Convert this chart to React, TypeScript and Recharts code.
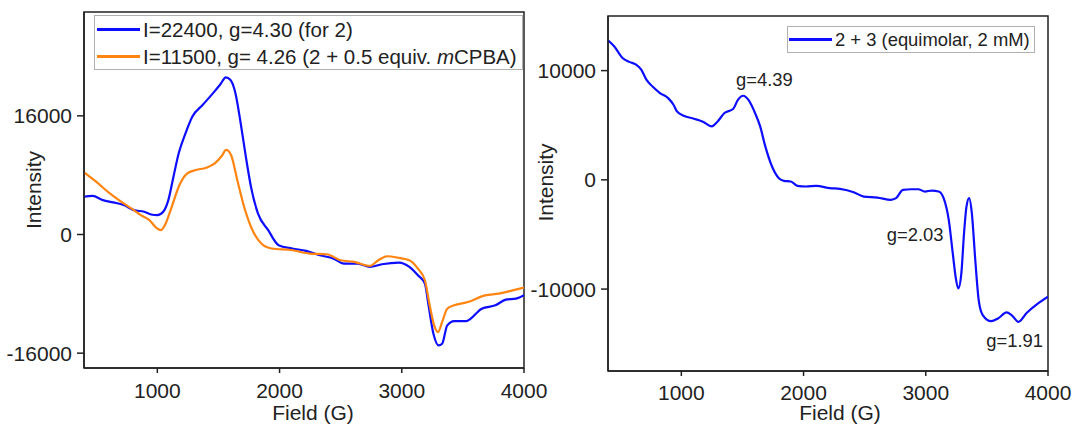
import { LineChart, Line, XAxis, YAxis, ReferenceArea, ReferenceDot, Legend, Label } from 'recharts'

const fieldTicks = [1000, 2000, 3000, 4000]
const leftIntensityTicks = [-16000, 0, 16000]
const rightIntensityTicks = [-10000, 0, 10000]

// complex 2 alone (I=22400, g=4.30)
const complexField = [400, 470, 555, 639, 724, 808, 893, 949, 1000, 1048, 1090, 1132, 1175, 1231, 1287, 1372, 1456, 1513, 1561, 1597, 1639, 1682, 1724, 1766, 1823, 1907, 1992, 2104, 2217, 2330, 2442, 2527, 2639, 2738, 2837, 2977, 3062, 3132, 3189, 3217, 3259, 3302, 3330, 3372, 3428, 3527, 3654, 3766, 3851, 3935, 4000]
const complexIntensity = [5100, 5200, 4640, 4330, 3970, 3290, 3060, 2700, 2600, 3060, 4640, 7800, 10950, 13660, 15900, 17490, 19060, 20190, 21180, 20870, 19060, 15000, 10500, 6440, 2840, 590, -1440, -1890, -2200, -2800, -3250, -3920, -3920, -4370, -4010, -3790, -4370, -5500, -6630, -9330, -13390, -14960, -14740, -12260, -11670, -11670, -10000, -9550, -8790, -8650, -8200]

// 2 + 0.5 equiv. mCPBA (I=11500, g=4.26)
const oxidizedField = [400, 499, 611, 724, 808, 865, 935, 992, 1028, 1062, 1118, 1175, 1245, 1316, 1400, 1470, 1527, 1563, 1603, 1654, 1710, 1766, 1851, 1935, 2104, 2245, 2386, 2499, 2611, 2738, 2808, 2879, 2977, 3062, 3132, 3189, 3231, 3265, 3296, 3330, 3372, 3428, 3541, 3682, 3794, 3907, 4000]
const oxidizedIntensity = [8380, 7120, 5540, 4190, 3290, 2610, 1940, 900, 590, 1260, 3740, 6440, 8250, 8700, 9010, 9600, 10590, 11400, 10730, 7350, 3740, 1040, -1220, -1890, -2120, -2570, -2660, -3470, -3700, -4240, -3470, -2930, -3150, -3470, -4600, -6170, -9780, -12260, -13160, -11810, -10000, -9550, -9100, -8200, -7980, -7530, -7170]

// 2 + 3 (equimolar, 2 mM)
const mixtureField = [400, 450, 519, 575, 630, 672, 714, 769, 825, 894, 936, 964, 1019, 1103, 1172, 1250, 1297, 1353, 1423, 1464, 1506, 1548, 1603, 1645, 1687, 1742, 1798, 1840, 1895, 1951, 2020, 2104, 2215, 2298, 2410, 2493, 2604, 2715, 2757, 2813, 2882, 2938, 2993, 3049, 3105, 3146, 3188, 3221, 3244, 3266, 3291, 3313, 3333, 3355, 3377, 3405, 3433, 3466, 3535, 3591, 3661, 3702, 3758, 3827, 3911, 4000]
const mixtureIntensity = [12780, 12230, 11160, 10800, 10550, 10090, 9170, 8500, 7950, 7460, 6880, 6270, 5870, 5600, 5350, 4900, 5350, 6120, 6480, 7340, 7700, 7340, 6120, 4890, 3060, 1220, 150, -90, -150, -550, -610, -550, -760, -830, -1130, -1530, -1620, -1830, -1680, -920, -860, -860, -1070, -980, -1070, -1680, -3670, -6730, -8870, -9940, -8560, -4890, -2450, -1680, -3060, -7340, -11010, -12380, -12940, -12690, -12140, -12380, -13000, -12170, -11380, -10700]

const annotationText = ['g=4.39', 'g=2.03', 'g=1.91']
const annotationField = [1680, 2913, 3727]
const annotationIntensity = [9150, -5030, -14730]

const BLUE = '#0d0dff'
const ORANGE = '#ff8410'
const INK = '#222'
const FONT = '"Liberation Sans", Arial, sans-serif'

const zip = (xs: number[], ys: number[]) => xs.map((field, i) => ({ field, intensity: ys[i] }))

const complexData = zip(complexField, complexIntensity)
const oxidizedData = zip(oxidizedField, oxidizedIntensity)
const mixtureData = zip(mixtureField, mixtureIntensity)

function LegendRow({ color, width, size, children }: { color: string; width: number; size: number; children: React.ReactNode }) {
  return (
    <div style={{ display: 'flex', alignItems: 'center', height: 27, whiteSpace: 'nowrap' }}>
      <div style={{ width, height: 2.5, background: color, marginRight: 3 }} />
      <span style={{ fontSize: size, color: INK, fontFamily: FONT }}>{children}</span>
    </div>
  )
}

function LeftLegend() {
  return (
    <div style={{ border: '1.5px solid #b0b0b0', background: '#fff', width: 429, height: 55, boxSizing: 'border-box', paddingLeft: 2 }}>
      <LegendRow color={BLUE} width={43} size={20.5}>I=22400, g=4.30 (for 2)</LegendRow>
      <LegendRow color={ORANGE} width={43} size={20.5}>
        I=11500, g= 4.26 (2 + 0.5 equiv. <i>m</i>CPBA)
      </LegendRow>
    </div>
  )
}

function RightLegend() {
  return (
    <div style={{ border: '1.5px solid #b0b0b0', background: '#fff', width: 248, height: 27, boxSizing: 'border-box', paddingLeft: 1, display: 'flex', alignItems: 'center' }}>
      <LegendRow color={BLUE} width={43} size={18.4}>2 + 3 (equimolar, 2 mM)</LegendRow>
    </div>
  )
}

const yTitle = (dx: number, dy: number) => (props: any) => {
  const vb = props.viewBox || {}
  const cx = vb.x + dx
  const cy = vb.y + vb.height / 2 + dy
  return (
    <text x={cx} y={cy} transform={`rotate(-90 ${cx} ${cy})`} textAnchor="middle" dominantBaseline="central" fontSize={21} fill={INK} fontFamily={FONT}>
      Intensity
    </text>
  )
}

const xTitle = (dx: number, dy: number) => (props: any) => {
  const vb = props.viewBox || {}
  const cx = vb.x + vb.width / 2 + dx
  const cy = vb.y + dy
  return (
    <text x={cx} y={cy} textAnchor="middle" dominantBaseline="central" fontSize={21} fill={INK} fontFamily={FONT}>
      Field (G)
    </text>
  )
}

const tickStyle = { fill: INK, fontSize: 21, fontFamily: FONT }

export default function App() {
  return (
    <div style={{ position: 'absolute', left: 0, top: 0, width: 1074, height: 425, background: '#fff', overflow: 'hidden' }}>
      <div style={{ position: 'absolute', left: 0, top: 0 }}>
        <LineChart width={560} height={425} margin={{ top: 12, right: 36, bottom: 0, left: 0 }}>
          <XAxis
            type="number"
            dataKey="field"
            domain={[400, 4000]}
            ticks={fieldTicks}
            interval={0}
            allowDataOverflow
            height={57}
            tickSize={5}
            tickMargin={10}
            stroke={INK}
            strokeWidth={1.5}
            tick={tickStyle}
          >
            <Label content={xTitle(9, 44)} />
          </XAxis>
          <YAxis
            type="number"
            dataKey="intensity"
            domain={[-18000, 30000]}
            ticks={leftIntensityTicks}
            interval={0}
            allowDataOverflow
            width={84}
            tickSize={7}
            tickMargin={5}
            stroke={INK}
            strokeWidth={1.5}
            tick={tickStyle}
          >
            <Label content={yTitle(33, 0)} />
          </YAxis>
          <ReferenceArea x1={400} x2={4000} y1={-18000} y2={30000} fill="none" stroke={INK} strokeWidth={1.5} fillOpacity={0} />
          <Line data={complexData} dataKey="intensity" type="monotone" stroke={BLUE} strokeWidth={2.2} dot={false} isAnimationActive={false} />
          <Line data={oxidizedData} dataKey="intensity" type="monotone" stroke={ORANGE} strokeWidth={2.2} dot={false} isAnimationActive={false} />
          <Legend
            layout="horizontal"
            align="center"
            verticalAlign="middle"
            content={() => <LeftLegend />}
            wrapperStyle={{ left: 94, top: 15, width: 'auto', height: 'auto' }}
          />
        </LineChart>
      </div>
      <div style={{ position: 'absolute', left: 520, top: 0 }}>
        <LineChart width={554} height={425} margin={{ top: 16, right: 26, bottom: 0, left: 0 }}>
          <XAxis
            type="number"
            dataKey="field"
            domain={[400, 4000]}
            ticks={fieldTicks}
            interval={0}
            allowDataOverflow
            height={54}
            tickSize={5}
            tickMargin={9}
            stroke={INK}
            strokeWidth={1.5}
            tick={tickStyle}
          >
            <Label content={xTitle(12, 41)} />
          </XAxis>
          <YAxis
            type="number"
            dataKey="intensity"
            domain={[-17500, 15000]}
            ticks={rightIntensityTicks}
            interval={0}
            allowDataOverflow
            width={88}
            tickSize={7}
            tickMargin={5}
            stroke={INK}
            strokeWidth={1.5}
            tick={tickStyle}
          >
            <Label content={yTitle(25, -11)} />
          </YAxis>
          <ReferenceArea x1={400} x2={4000} y1={-17500} y2={15000} fill="none" stroke={INK} strokeWidth={1.5} fillOpacity={0} />
          <Line data={mixtureData} dataKey="intensity" type="monotone" stroke={BLUE} strokeWidth={2.2} dot={false} isAnimationActive={false} />
          {annotationText.map((text, i) => (
            <ReferenceDot
              key={text}
              x={annotationField[i]}
              y={annotationIntensity[i]}
              r={0}
              stroke="none"
              fill="none"
              label={{ value: text, position: 'center', fontSize: 18.4, fill: INK, fontFamily: FONT }}
            />
          ))}
          <Legend
            layout="horizontal"
            align="center"
            verticalAlign="middle"
            content={() => <RightLegend />}
            wrapperStyle={{ left: 267, top: 26, width: 'auto', height: 'auto' }}
          />
        </LineChart>
      </div>
    </div>
  )
}
